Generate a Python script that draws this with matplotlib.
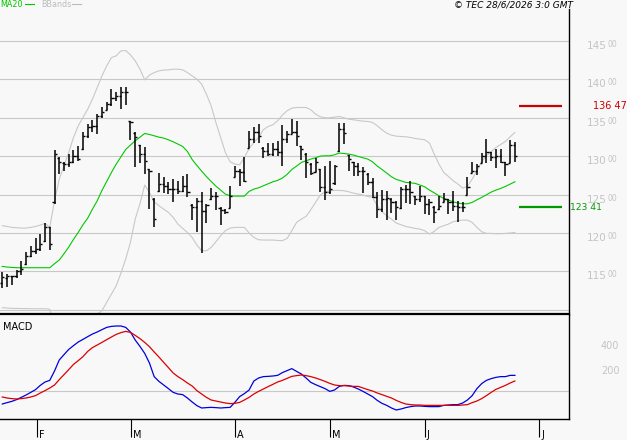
import matplotlib
matplotlib.use("Agg")
import matplotlib.pyplot as plt
import matplotlib.transforms as mtransforms
from matplotlib.lines import Line2D
import numpy as np

# daily bars, one per trading day (Jan 22 -> Jun 26 2026)
opens = [11350, 11420, 11440, 11440, 11500, 11600, 11705, 11770, 11792, 11900,
         12073, 12398, 12970, 12910, 12896, 12926, 13004, 13090, 13264, 13372,
         13394, 13524, 13600, 13675, 13749, 13783, 13835, 13450, 13300, 13140,
         13026, 12830, 12440, 12550, 12636, 12614, 12571, 12571, 12549, 12614,
         12370, 12333, 12419, 12290, 12440, 12484, 12330, 12303, 12330, 12730,
         12809, 12788, 13110, 13220, 13316, 13110, 13069, 13026, 13091, 13056,
         13220, 13290, 13316, 13130, 13030, 12900, 12790, 12830, 12593, 12528,
         12650, 13060, 13350, 13010, 12920, 12874, 12809, 12770, 12658, 12463,
         12311, 12441, 12445, 12398, 12320, 12571, 12571, 12480, 12441, 12480,
         12376, 12340, 12310, 12400, 12441, 12398, 12355, 12333, 12500, 12780,
         12809, 12910, 13004, 13056, 12982, 13004, 12920, 12910, 13143]
highs = [11488, 11467, 11445, 11519, 11640, 11748, 11826, 11930, 11987, 12125,
         12073, 13078, 12982, 12926, 13026, 13082, 13134, 13316, 13415, 13467,
         13545, 13632, 13705, 13870, 13835, 13900, 13892, 13459, 13307, 13143,
         13112, 12831, 12450, 12779, 12723, 12666, 12701, 12679, 12744, 12766,
         12376, 12450, 12536, 12376, 12580, 12536, 12333, 12311, 12614, 12865,
         12831, 12991, 13329, 13372, 13415, 13112, 13169, 13169, 13199, 13407,
         13329, 13480, 13450, 13134, 13039, 12909, 12969, 12831, 12874, 12930,
         12883, 13424, 13424, 13017, 12926, 12909, 12852, 12779, 12710, 12528,
         12558, 12549, 12450, 12419, 12593, 12623, 12679, 12484, 12614, 12484,
         12441, 12346, 12484, 12519, 12441, 12549, 12419, 12398, 12723, 12926,
         12896, 13034, 13220, 13056, 13091, 13091, 12926, 13207, 13177]
lows = [11281, 11302, 11324, 11411, 11454, 11584, 11683, 11727, 11770, 11887,
        11779, 12376, 12766, 12809, 12861, 12909, 12939, 13078, 13233, 13316,
        13285, 13489, 13597, 13654, 13710, 13610, 13662, 13208, 12861, 12909,
        12766, 12311, 12073, 12536, 12519, 12506, 12398, 12506, 12528, 12463,
        12173, 12008, 11740, 12129, 12432, 12303, 12103, 12246, 12320, 12723,
        12606, 12666, 13099, 13169, 13169, 12969, 12995, 12995, 12995, 12874,
        13169, 13285, 13134, 12952, 12710, 12753, 12788, 12528, 12432, 12506,
        12623, 13056, 13156, 12809, 12744, 12736, 12519, 12623, 12450, 12190,
        12268, 12173, 12259, 12173, 12311, 12389, 12376, 12363, 12398, 12246,
        12233, 12129, 12303, 12398, 12246, 12290, 12147, 12268, 12493, 12779,
        12753, 12909, 12909, 12939, 12839, 12909, 12736, 12909, 12926]
closes = [11424, 11445, 11437, 11510, 11532, 11705, 11770, 11792, 11857, 12073,
          11857, 13026, 12917, 12896, 12926, 13004, 12961, 13264, 13372, 13394,
          13524, 13567, 13675, 13749, 13783, 13835, 13827, 13437, 13242, 13026,
          12939, 12809, 12181, 12636, 12614, 12571, 12571, 12549, 12614, 12528,
          12333, 12419, 12290, 12363, 12484, 12484, 12303, 12277, 12484, 12809,
          12788, 12679, 13220, 13316, 13264, 13069, 13026, 13091, 13056, 13220,
          13285, 13316, 13264, 13091, 12917, 12779, 12917, 12593, 12528, 12571,
          12874, 13350, 13298, 12961, 12874, 12809, 12809, 12658, 12463, 12311,
          12441, 12450, 12398, 12333, 12571, 12571, 12528, 12441, 12484, 12376,
          12398, 12268, 12346, 12441, 12398, 12355, 12333, 12333, 12593, 12809,
          12874, 13004, 13056, 12982, 13004, 12917, 12896, 13143, 13004]

ma20 = [11566, 11558, 11553, 11549, 11549, 11549, 11549, 11549, 11549, 11549,
        11549, 11601, 11649, 11731, 11818, 11917, 12008, 12108, 12194, 12311,
        12419, 12554, 12671, 12788, 12896, 12991, 13086, 13143, 13199, 13246,
        13294, 13281, 13264, 13246, 13234, 13212, 13186, 13156, 13125, 13060,
        12956, 12878, 12805, 12735, 12671, 12610, 12558, 12506, 12484, 12480,
        12480, 12480, 12541, 12571, 12588, 12614, 12640, 12666, 12684, 12714,
        12762, 12826, 12870, 12917, 12939, 12961, 12978, 13000, 13004, 13004,
        13017, 13039, 13034, 13026, 13013, 12995, 12978, 12961, 12926, 12870,
        12826, 12779, 12731, 12697, 12679, 12658, 12653, 12645, 12623, 12601,
        12558, 12523, 12484, 12450, 12428, 12406, 12389, 12380, 12380, 12398,
        12432, 12463, 12497, 12532, 12558, 12580, 12606, 12636, 12666]
bb_upper = [12095, 12086, 12073, 12069, 12064, 12064, 12073, 12086, 12103, 12125,
            12073, 12419, 12701, 12874, 13047, 13242, 13394, 13502, 13610, 13740,
            13892, 14043, 14173, 14281, 14303, 14368, 14372, 14316, 14238, 14130,
            13991, 14052, 14086, 14108, 14117, 14121, 14130, 14130, 14121, 14086,
            14043, 14000, 13935, 13805, 13653, 13437, 13242, 13047, 12926, 12896,
            12887, 12982, 13099, 13177, 13242, 13342, 13385, 13407, 13459, 13532,
            13589, 13623, 13632, 13632, 13632, 13602, 13545, 13511, 13498, 13498,
            13506, 13515, 13498, 13480, 13472, 13463, 13454, 13450, 13437, 13394,
            13342, 13298, 13272, 13259, 13255, 13251, 13242, 13229, 13220, 13212,
            13169, 13026, 12896, 12788, 12736, 12679, 12636, 12584, 12606, 12701,
            12809, 12926, 13004, 13056, 13112, 13151, 13190, 13251, 13307]
bb_lower = [11030, 11025, 11020, 11020, 11018, 11018, 11016, 11016, 11016, 11016,
            11010, 10780, 10600, 10590, 10590, 10590, 10620, 10710, 10780, 10880,
            10945, 10991, 11099, 11207, 11315, 11480, 11662, 11878, 12181, 12380,
            12623, 12528, 12406, 12355, 12311, 12268, 12203, 12116, 12060, 12008,
            11943, 11844, 11770, 11770, 11813, 11887, 11965, 12030, 12064, 12073,
            12073, 12073, 12000, 11943, 11913, 11909, 11909, 11909, 11904, 11900,
            11930, 12030, 12138, 12181, 12216, 12303, 12398, 12493, 12536, 12549,
            12554, 12554, 12549, 12536, 12519, 12506, 12493, 12476, 12463, 12355,
            12277, 12225, 12181, 12129, 12108, 12086, 12073, 12060, 12051, 12030,
            11986, 12021, 12073, 12095, 12116, 12147, 12160, 12168, 12168, 12138,
            12073, 12017, 11995, 11995, 11991, 11991, 11995, 12000, 12008]

macd = [-104, -93, -83, -69, -51, -32, -11, 11, 45, 72,
        85, 160, 248, 291, 333, 363, 392, 413, 435, 456,
        472, 491, 509, 517, 520, 520, 509, 472, 408, 357,
        301, 224, 115, 77, 48, 19, -11, -24, -29, -56,
        -88, -117, -136, -133, -131, -133, -136, -133, -131, -91,
        -45, -21, 8, 80, 104, 115, 117, 120, 125, 147,
        163, 179, 157, 136, 104, 69, 51, 35, 19, -3,
        8, 37, 45, 43, 32, 16, -3, -24, -45, -75,
        -99, -115, -136, -152, -144, -133, -125, -120, -120, -123,
        -125, -125, -125, -115, -112, -109, -109, -96, -72, -37,
        19, 59, 85, 99, 109, 115, 115, 125, 125]
signal = [-48, -56, -61, -64, -61, -56, -48, -37, -16, 3,
          24, 48, 91, 131, 171, 213, 243, 275, 317, 347,
          368, 389, 411, 432, 453, 467, 477, 469, 445, 419,
          389, 355, 312, 272, 229, 187, 144, 115, 91, 64,
          40, 3, -24, -51, -72, -80, -88, -96, -101, -99,
          -91, -72, -51, -24, -3, 16, 35, 53, 72, 85,
          101, 117, 123, 128, 123, 115, 104, 91, 77, 61,
          48, 43, 43, 40, 37, 37, 24, 11, 0, -16,
          -29, -43, -56, -75, -91, -104, -109, -112, -112, -115,
          -115, -115, -115, -115, -115, -115, -115, -112, -109, -93,
          -80, -61, -37, -11, 13, 29, 45, 64, 80]

level_high = 13647
level_low = 12341
price_grid = [11000, 11500, 12000, 12500, 13000, 13500, 14000, 14500]
price_labels = [11500, 12000, 12500, 13000, 13500, 14000, 14500]
macd_labels = [200, 400]
month_pos = [7.3, 27.1, 49.0, 69.0, 89.0, 113.1]
month_txt = ['F', 'M', 'A', 'M', 'J', 'J']

BG = '#f8f8f8'
GRID = '#c8c8c8'
LBL = '#c4c4c4'

W, H = 627, 440
fig = plt.figure(figsize=(W / 100, H / 100), dpi=100, facecolor=BG)

def fx(px):
    return px / W

def fy(py):
    return 1 - py / H

ax = fig.add_axes([0, fy(314.5), fx(569), fy(9) - fy(314.5)], facecolor=BG)
ax2 = fig.add_axes([0, fy(419), fx(569), fy(314.5) - fy(419)], facecolor=BG)

x = np.arange(len(closes))
xlim = (-0.485, 119.4)

# ---- price panel
for v in price_grid:
    ax.axhline(v, color=GRID, lw=0.8, zorder=1)
ax.plot(x, bb_upper, color='#c8c8c8', lw=0.8, zorder=2)
ax.plot(x, bb_lower, color='#c8c8c8', lw=0.8, zorder=2)
ax.plot(x, ma20, color='#00c800', lw=0.8, zorder=3)
ax.vlines(x, lows, highs, color='black', lw=1.1, zorder=4)
ax.hlines(opens, x - 0.45, x, color='black', lw=1.0, zorder=4)
ax.hlines(closes, x, x + 0.45, color='black', lw=1.0, zorder=4)

ax.hlines(level_high, 108.85, 117.9, color='#cc0000', lw=1.6, zorder=5)
ax.hlines(level_low, 108.85, 117.9, color='#009900', lw=1.6, zorder=5)

ax.set_xlim(*xlim)
ax.set_ylim(10941, 14912)
ax.set_xticks([])
ax.set_yticks([])
for s in ['top', 'left', 'bottom']:
    ax.spines[s].set_visible(False)
ax.spines['right'].set_linewidth(1.0)

ytr = ax.get_yaxis_transform()
lab_tr = mtransforms.offset_copy(ytr, fig=fig, x=0, y=-5.0, units='dots')
sup_tr = mtransforms.offset_copy(ytr, fig=fig, x=0, y=-3.5, units='dots')
for v in price_labels:
    ax.text(587 / 569, v, str(v // 100), transform=lab_tr, color=LBL,
            fontsize=7.5, va='center', ha='left', clip_on=False)
    ax.text(607 / 569, v, '%02d' % (v % 100), transform=sup_tr, color=LBL,
            fontsize=5.5, va='center', ha='left', clip_on=False)

ax.text(593 / 569, level_high, '%d %02d' % (level_high // 100, level_high % 100),
        transform=ytr, color='#cc0000', fontsize=7, va='center', ha='left')
low_tr = mtransforms.offset_copy(ytr, fig=fig, x=0, y=-1, units='dots')
ax.text(570 / 569, level_low, '%d %02d' % (level_low // 100, level_low % 100),
        transform=low_tr, color='#009900', fontsize=6.6, va='center', ha='left')

# ---- MACD panel
ax2.axhline(0, color=GRID, lw=0.8, zorder=1)
ax2.plot(x, macd, color='#0000dd', lw=0.9, zorder=3)
ax2.plot(x, signal, color='#dd0000', lw=0.9, zorder=3)
ax2.set_xlim(*xlim)
ax2.set_ylim(-224, 612)
ax2.set_yticks([])
ax2.spines['left'].set_visible(False)
ax2.spines['top'].set_linewidth(1.6)
ax2.spines['right'].set_linewidth(1.0)
ax2.spines['bottom'].set_linewidth(1.0)
ax2.set_xticks(month_pos)
ax2.set_xticklabels([])
ax2.tick_params(axis='x', length=13, width=0.8, color='black', direction='out')
ax2.text(3 / 569, 0.876, 'MACD', transform=ax2.transAxes, fontsize=7,
         va='center', ha='left', color='black')

ytr2 = mtransforms.offset_copy(ax2.get_yaxis_transform(), fig=fig, x=0, y=-5, units='dots')
for v in macd_labels:
    ax2.text(601 / 569, v, str(v), transform=ytr2, color=LBL, fontsize=7,
             va='center', ha='left', clip_on=False)

xtr = mtransforms.offset_copy(ax2.get_xaxis_transform(), fig=fig, x=2, y=0, units='dots')
for p, t in zip(month_pos, month_txt):
    ax2.text(p, -19 / 104.5, t, transform=xtr, fontsize=7, va='baseline',
             ha='left', color='black', clip_on=False)

# ---- header
fig.text(fx(0), fy(4.5), 'MA20', color='#00c800', fontsize=5.8, va='center', ha='left')
fig.add_artist(Line2D([fx(25), fx(34)], [fy(4.5), fy(4.5)], color='#00c800', lw=0.8))
fig.text(fx(41), fy(4.5), 'BBands', color='#bbbbbb', fontsize=5.8, va='center', ha='left')
fig.add_artist(Line2D([fx(72), fx(81)], [fy(4.5), fy(4.5)], color='#bbbbbb', lw=0.8))
fig.text(fx(573), fy(4.5), '\u00a9 TEC 28/6/2026 3:0 GMT', color='black', fontsize=6.5,
         style='italic', va='center', ha='right')

fig.savefig('out.png', dpi=100, facecolor=BG)
